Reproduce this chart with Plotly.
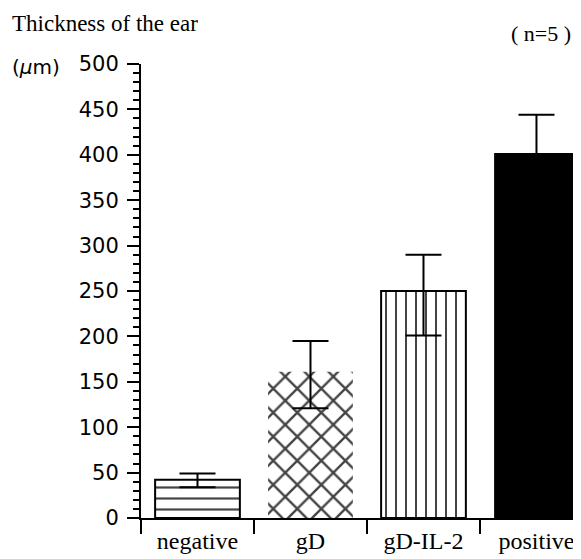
import plotly.graph_objects as go

categories = ["negative", "gD", "gD-IL-2", "positive"]
means = [42, 161, 250, 402]
err_plus = [7, 34, 40, 42]
err_minus = [8, 40, 49, 42]
y_ticks = [0, 50, 100, 150, 200, 250, 300, 350, 400, 450, 500]

fig = go.Figure()
fig.add_trace(go.Bar(
    x=categories, y=means, width=0.75,
    marker=dict(
        color=["white", "white", "white", "black"],
        line=dict(color="black", width=[2, 0, 2, 0]),
        pattern=dict(
            shape=["-", "x", "|", ""],
            size=[11, 17, 10, 10],
            solidity=[0.2, 0.26, 0.2, 0.2],
            fgcolor="black",
            fgopacity=1,
            fillmode="overlay",
        ),
    ),
    error_y=dict(type="data", symmetric=False, array=err_plus, arrayminus=err_minus,
                 color="black", thickness=2, width=18),
))

PW = 440.0
PH = 454.0
fig.update_layout(
    width=573, height=551,
    margin=dict(l=133, r=0, t=56, b=41),
    plot_bgcolor="white", paper_bgcolor="white",
    showlegend=False,
    font=dict(family="Liberation Serif", color="black"),
)
fig.update_xaxes(
    range=[-0.5, 3.394],
    showline=True, linecolor="black", linewidth=2,
    ticks="outside", tickson="boundaries", ticklen=14, tickwidth=2, tickcolor="black",
    tickfont=dict(family="Liberation Serif", size=24, color="black"),
    showgrid=False, zeroline=False,
)
fig.update_yaxes(
    range=[0, 500],
    tickvals=y_ticks,
    showline=True, linecolor="black", linewidth=2,
    ticks="outside", ticklen=12, tickwidth=2, tickcolor="black",
    ticklabelstandoff=4,
    minor=dict(dtick=10, ticks="outside", ticklen=6, tickwidth=2, tickcolor="black", showgrid=False),
    tickfont=dict(family="DejaVu Sans", size=21, color="black"),
    showgrid=False, zeroline=False,
)

fig.add_annotation(text="Thickness of the ear", xref="paper", yref="paper",
                   x=-131 / PW, y=1 + 40 / PH, xanchor="left", yanchor="middle",
                   showarrow=False, font=dict(family="Liberation Serif", size=23, color="black"))
fig.add_annotation(text="( n=5 )", xref="paper", yref="paper",
                   x=432 / PW, y=1 + 31 / PH, xanchor="right", yanchor="middle",
                   showarrow=False, font=dict(family="Liberation Serif", size=22, color="black"))
fig.add_annotation(text="(<i>μ</i>m)", xref="paper", yref="paper",
                   x=-131 / PW, y=1 - 3 / PH, xanchor="left", yanchor="middle",
                   showarrow=False, font=dict(family="DejaVu Sans", size=20, color="black"))

fig.write_html("out.html")
